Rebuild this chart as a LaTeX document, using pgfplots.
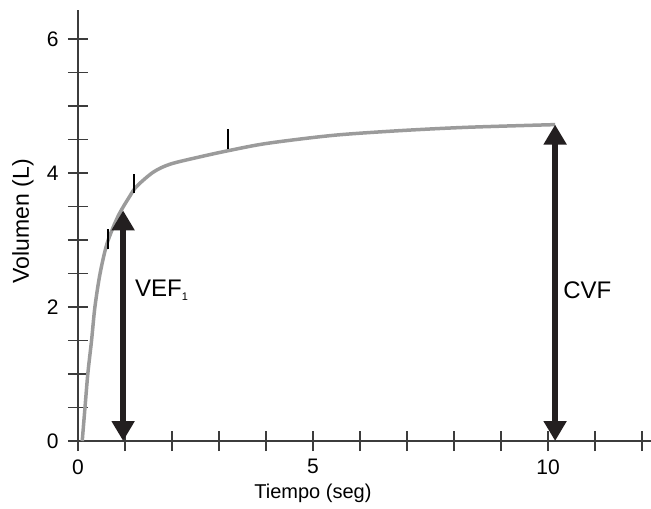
\documentclass[border=0pt]{standalone}
\usepackage{fontspec}
\setmainfont{Liberation Sans}
\usepackage{pgfplots}
\pgfplotsset{compat=1.18}
\usetikzlibrary{arrows.meta}
\definecolor{axgray}{HTML}{3C3C3C}
\definecolor{curvegray}{HTML}{9B9B9B}
\definecolor{arrowblk}{HTML}{231F20}
\begin{document}
\begin{tikzpicture}
\begin{axis}[
  scale only axis,
  width=573pt, height=431pt,
  xmin=0, xmax=12.19, ymin=0, ymax=6.43,
  axis lines=left,
  axis line style={-, line width=1.5pt, color=axgray},
  xtick={0,5,10},
  minor xtick={1,2,3,4,6,7,8,9,11,12},
  ytick={0,2,4,6},
  minor ytick={0.5,1,1.5,2.5,3,3.5,4.5,5,5.5},
  tick align=center,
  major tick length=20pt,
  minor tick length=20pt,
  every tick/.style={line width=1.5pt, color=axgray},
  minor tick style={line width=1.5pt, color=axgray},
  /pgf/number format/assume math mode=true,
  ticklabel style={font=\fontsize{21}{25}\selectfont, text=black},
  xticklabel style={yshift=-5pt},
  yticklabel style={xshift=-6pt},
  xlabel={Tiempo (seg)},
  ylabel={Volumen (L)},
  xlabel style={font=\fontsize{20}{24}\selectfont, at={(axis description cs:0.410,-0.1206)}, anchor=center},
  ylabel style={font=\fontsize{23}{27}\selectfont, at={(axis description cs:-0.096,0.510)}, anchor=center, rotate=0},
  clip=false,
]
\addplot[curvegray, line width=3.5pt, smooth, tension=0.5] coordinates {
 (0.09,0) (0.15,0.51) (0.21,1.01) (0.29,1.51) (0.36,2.0) (0.47,2.5)
 (0.62,2.95) (0.85,3.35) (1.1,3.65) (1.25,3.8) (1.6,4.01) (1.96,4.13)
 (2.6,4.24) (3.19,4.33) (4.02,4.44) (5.43,4.56) (6.85,4.63) (8.28,4.68)
 (10.15,4.72)
};
\addplot[black, line width=1.2pt] coordinates {(0.64,2.86) (0.64,3.16)};
\addplot[black, line width=1.2pt] coordinates {(1.19,3.70) (1.19,3.99)};
\addplot[black, line width=1.2pt] coordinates {(3.19,4.36) (3.19,4.66)};
\addplot[arrowblk, line width=6pt, {Triangle[width=22pt,length=20pt]}-{Triangle[width=22pt,length=20pt]}] coordinates {(0.96,0) (0.96,3.44)};
\addplot[arrowblk, line width=6pt, {Triangle[width=22pt,length=20pt]}-{Triangle[width=22pt,length=20pt]}] coordinates {(10.15,0) (10.15,4.72)};
\node[anchor=west, font=\fontsize{24}{28}\selectfont, inner sep=0pt] at (axis cs:1.21,2.25) {VEF\raisebox{-0.35ex}{\fontsize{11}{12}\selectfont 1}};
\node[anchor=west, font=\fontsize{24}{28}\selectfont, inner sep=0pt] at (axis cs:10.32,2.25) {CVF};
\end{axis}
\pgfresetboundingbox
\path[use as bounding box] (-78pt,-68pt) rectangle (573pt,441pt);
\end{tikzpicture}
\end{document}
